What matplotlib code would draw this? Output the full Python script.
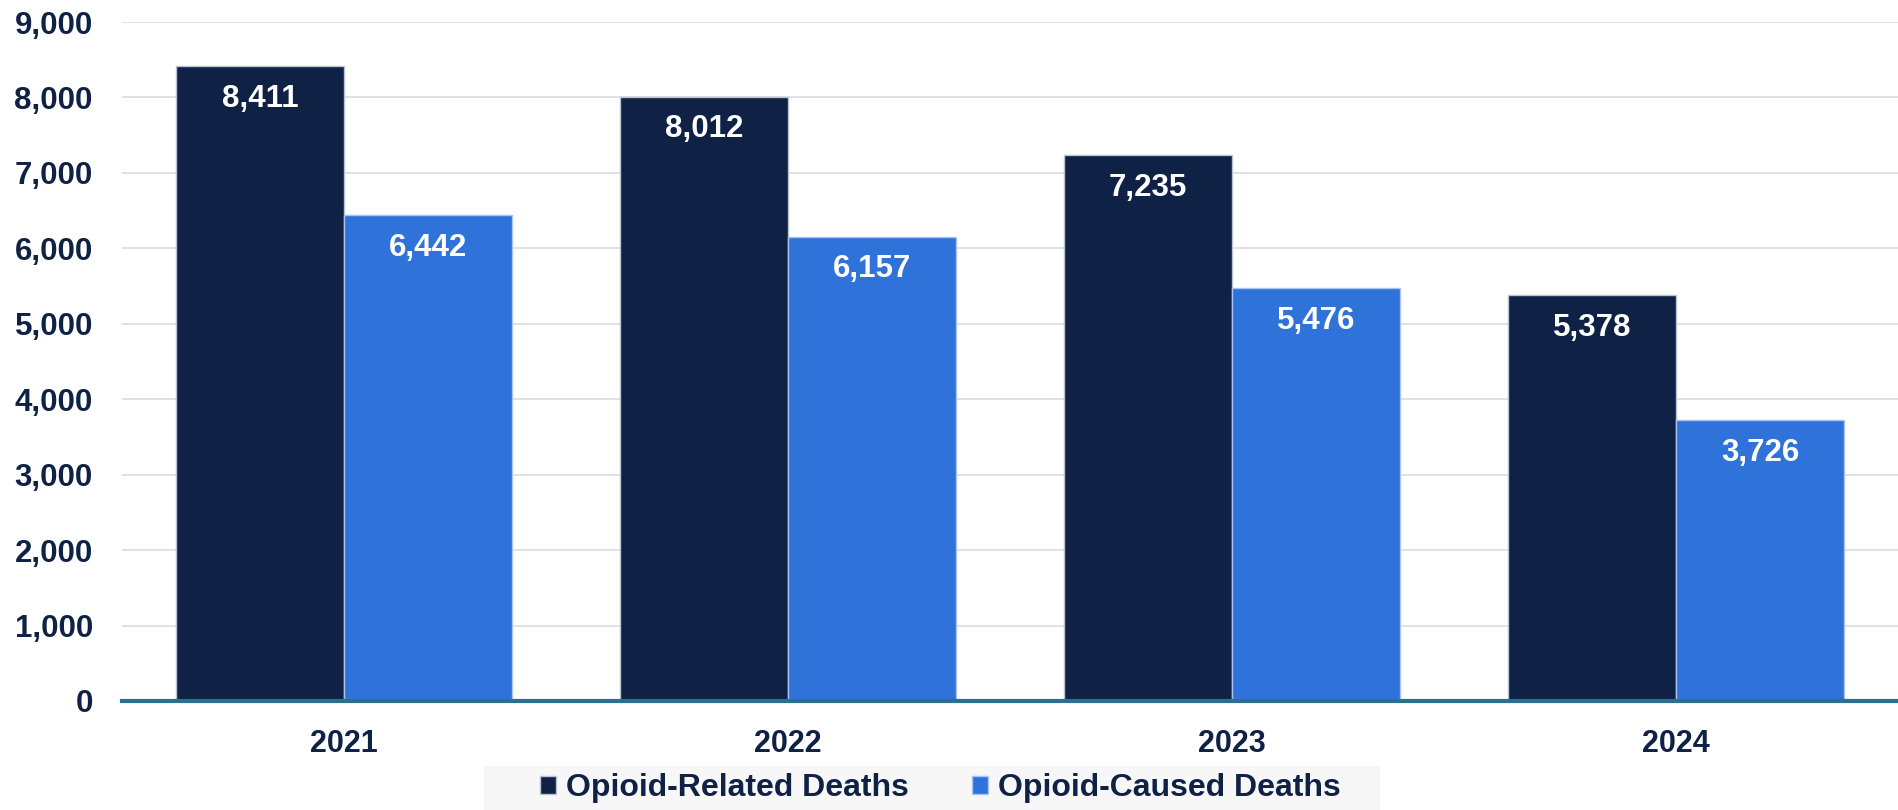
import matplotlib.pyplot as plt
import numpy as np
from matplotlib.patches import Patch, Rectangle

years = ['2021', '2022', '2023', '2024']
related = [8411, 8012, 7235, 5378]
caused = [6442, 6157, 5476, 3726]
series_names = ['Opioid-Related Deaths', 'Opioid-Caused Deaths']

navy = '#0f2245'
blue = '#2f72d9'
txt = '#0f2245'

plt.rcParams['font.family'] = ['Liberation Sans', 'DejaVu Sans']

fig = plt.figure(figsize=(18.98, 8.10), dpi=100)
ax = fig.add_axes([0.0643, 0.1346, 0.9357, 0.8382])

x = np.arange(len(years))
w = 0.378
b1 = ax.bar(x - w / 2, related, w, color=navy, edgecolor='#b8c2d0', linewidth=1, zorder=3)
b2 = ax.bar(x + w / 2, caused, w, color=blue, edgecolor='#a9c4ee', linewidth=1, zorder=3)

for bars, vals in ((b1, related), (b2, caused)):
    for r, v in zip(bars, vals):
        ax.annotate(f'{v:,}', (r.get_x() + r.get_width() / 2, v),
                    xytext=(0, -23.5), textcoords='offset points',
                    ha='center', va='center', color='white',
                    fontsize=22.5, fontweight='bold', zorder=4)

ax.set_xlim(-0.5, 3.5)
ax.set_ylim(0, 9000)
ax.set_yticks(range(0, 9001, 1000))
ax.set_yticklabels([f'{t:,}' for t in range(0, 9001, 1000)])
ax.set_xticks(x)
ax.set_xticklabels(years)
ax.tick_params(axis='y', length=0, pad=21, labelsize=22.5, labelcolor=txt)
ax.tick_params(axis='x', length=0, pad=20, labelsize=22, labelcolor=txt)
for lab in ax.get_xticklabels() + ax.get_yticklabels():
    lab.set_fontweight('bold')

ax.grid(axis='y', color='#d9dce1', linewidth=1.2, zorder=0)
for s in ('top', 'right', 'left'):
    ax.spines[s].set_visible(False)
ax.spines['bottom'].set_color('#2e6f8e')
ax.spines['bottom'].set_linewidth(3)
ax.spines['bottom'].set_zorder(5)

# light grey band behind the legend
fig.patches.append(Rectangle((484 / 1898, 0), 896 / 1898, 44 / 810,
                             transform=fig.transFigure, facecolor='#f7f7f7',
                             edgecolor='none', zorder=0))

handles = [Patch(facecolor=navy, edgecolor='#b8c2d0'), Patch(facecolor=blue, edgecolor='#a9c4ee')]
leg = fig.legend(handles, series_names, loc='center', bbox_to_anchor=(0.4955, 0.027),
                 ncol=2, frameon=False,
                 handlelength=0.5, handleheight=0.5, handletextpad=0.3, columnspacing=2.0,
                 borderpad=0.1,
                 prop={'weight': 'bold', 'size': 23})
for t in leg.get_texts():
    t.set_color(txt)

fig.savefig('out.png', dpi=100, facecolor='white')
